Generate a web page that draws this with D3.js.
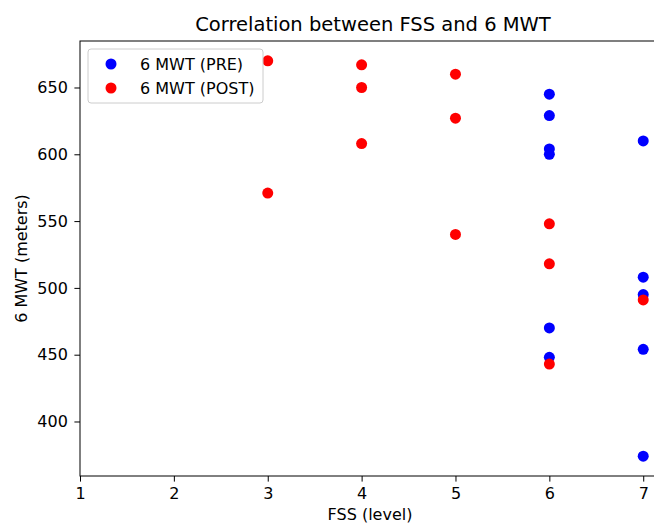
<!DOCTYPE html>
<html lang="en">
<head>
<meta charset="UTF-8">
<script src="https://d3js.org/d3.v7.min.js"></script>
<style>
  body { margin: 0; background: #fff; }
  svg { display: block; font-family: "DejaVu Sans", sans-serif; }
</style>
</head>
<body>
<script>
// FSS level and 6 MWT distance
const preFss  = [6, 6, 6, 6, 6, 6, 7, 7, 7, 7, 7];
const preMwt  = [645, 629, 604, 600, 470, 448, 610, 508, 495, 454, 374];
const postFss = [3, 3, 4, 4, 4, 5, 5, 5, 6, 6, 6, 7];
const postMwt = [670, 571, 667, 650, 608, 660, 627, 540, 548, 518, 443, 491];
const xTicks = [1, 2, 3, 4, 5, 6, 7];
const yTicks = [400, 450, 500, 550, 600, 650];

const W = 654, H = 524;
const plot = { left: 80, top: 41, right: 662, bottom: 476 };
const fs = 16;

const svg = d3.select('body').append('svg')
    .attr('width', W)
    .attr('height', H);

// x limits stretched to include tick 1, y with matplotlib-like 5% margins
const x = d3.scaleLinear().domain([1, 7.2]).range([plot.left, plot.right]);
const allY = preMwt.concat(postMwt);
const yMin = d3.min(allY), yMax = d3.max(allY), pad = (yMax - yMin) * 0.05;
const y = d3.scaleLinear().domain([yMin - pad, yMax + pad]).range([plot.bottom, plot.top]);

// points
const pre = preFss.map((f, i) => ({ f: f, m: preMwt[i] }));
const post = postFss.map((f, i) => ({ f: f, m: postMwt[i] }));

svg.append('g').selectAll('circle')
    .data(pre).enter().append('circle')
    .attr('cx', d => x(d.f))
    .attr('cy', d => y(d.m))
    .attr('r', 5.5)
    .attr('fill', '#0000ff');

svg.append('g').selectAll('circle')
    .data(post).enter().append('circle')
    .attr('cx', d => x(d.f))
    .attr('cy', d => y(d.m))
    .attr('r', 5.5)
    .attr('fill', '#ff0000');

// axes
const xAxis = svg.append('g')
    .attr('transform', `translate(0,${plot.bottom})`)
    .call(d3.axisBottom(x).tickValues(xTicks).tickFormat(d3.format('d'))
        .tickSize(5.6).tickPadding(6));
const yAxis = svg.append('g')
    .attr('transform', `translate(${plot.left},0)`)
    .call(d3.axisLeft(y).tickValues(yTicks).tickFormat(d3.format('d'))
        .tickSize(5.6).tickPadding(6.5));

[xAxis, yAxis].forEach(a => {
    a.select('.domain').remove();
    a.selectAll('text').attr('font-size', fs).attr('fill', '#000')
        .attr('font-family', '"DejaVu Sans", sans-serif');
    a.selectAll('line').attr('stroke', '#000').attr('stroke-width', 1);
});

// frame
svg.append('rect')
    .attr('x', plot.left).attr('y', plot.top)
    .attr('width', plot.right - plot.left).attr('height', plot.bottom - plot.top)
    .attr('fill', 'none')
    .attr('stroke', '#000')
    .attr('stroke-width', 1);

// labels
svg.append('text')
    .attr('x', 373).attr('y', 31)
    .attr('text-anchor', 'middle')
    .attr('font-size', 19.5)
    .text('Correlation between FSS and 6 MWT');

svg.append('text')
    .attr('x', 370).attr('y', 520)
    .attr('text-anchor', 'middle')
    .attr('font-size', fs)
    .text('FSS (level)');

svg.append('text')
    .attr('transform', `translate(27,${(plot.top + plot.bottom) / 2}) rotate(-90)`)
    .attr('text-anchor', 'middle')
    .attr('font-size', fs)
    .text('6 MWT (meters)');

// legend
const legend = svg.append('g').attr('transform', 'translate(88,49)');
legend.append('rect')
    .attr('width', 175).attr('height', 54)
    .attr('rx', 3)
    .attr('fill', '#fff').attr('fill-opacity', 0.8)
    .attr('stroke', '#ccc');
const items = [['6 MWT (PRE)', '#0000ff'], ['6 MWT (POST)', '#ff0000']];
items.forEach((it, i) => {
    legend.append('circle')
        .attr('cx', 23).attr('cy', 15 + i * 24)
        .attr('r', 5.5).attr('fill', it[1]);
    legend.append('text')
        .attr('x', 52).attr('y', 15 + i * 24)
        .attr('dy', '0.35em')
        .attr('font-size', fs)
        .text(it[0]);
});
</script>
</body>
</html>
